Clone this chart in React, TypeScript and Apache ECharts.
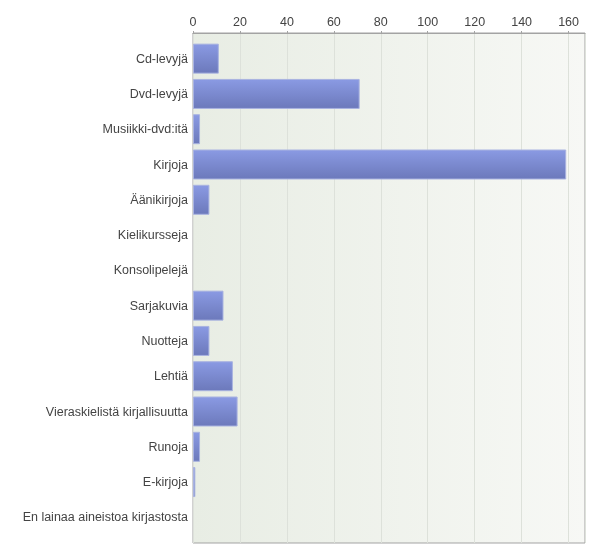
import React, { useEffect, useRef } from "react";
import * as echarts from "echarts";

const categories: string[] = [
  "Cd-levyjä",
  "Dvd-levyjä",
  "Musiikki-dvd:itä",
  "Kirjoja",
  "Äänikirjoja",
  "Kielikursseja",
  "Konsolipelejä",
  "Sarjakuvia",
  "Nuotteja",
  "Lehtiä",
  "Vieraskielistä kirjallisuutta",
  "Runoja",
  "E-kirjoja",
  "En lainaa aineistoa kirjastosta",
];

const values: number[] = [11, 71, 3, 159, 7, 0, 0, 13, 7, 17, 19, 3, 1, 0];

const axisMax = 167;
const tickStep = 20;

const FONT = "'Liberation Sans', Arial, sans-serif";

export default function App() {
  const ref = useRef<HTMLDivElement>(null);

  useEffect(() => {
    if (!ref.current) return;
    const chart = echarts.init(ref.current, undefined, { renderer: "svg" });
    chart.setOption({
      animation: false,
      grid: [
        {
          left: 193,
          right: 15,
          top: 33,
          bottom: 15,
          show: true,
          borderColor: "#a3a3a3",
          borderWidth: 1,
          backgroundColor: new echarts.graphic.LinearGradient(0, 0, 1, 0, [
            { offset: 0, color: "#e8ede4" },
            { offset: 1, color: "#f7f8f5" },
          ]),
        },
        {
          left: 193,
          right: 15,
          top: 41,
          bottom: 23,
        },
      ],
      xAxis: [
        {
          gridIndex: 0,
          type: "value",
          position: "top",
          min: 0,
          max: axisMax,
          interval: tickStep,
          axisLine: { show: true, lineStyle: { color: "#a3a3a3", width: 1 } },
          axisTick: { show: true, length: 2, lineStyle: { color: "#a3a3a3" } },
          splitLine: { show: true, lineStyle: { color: "#dde1da", width: 1 } },
          axisLabel: {
            showMaxLabel: false,
            margin: 5,
            fontSize: 12.5,
            color: "#444444",
            fontFamily: FONT,
          },
        },
        {
          gridIndex: 1,
          type: "value",
          min: 0,
          max: axisMax,
          show: false,
        },
      ],
      yAxis: [
        {
          gridIndex: 0,
          type: "category",
          data: [""],
          show: false,
        },
        {
          gridIndex: 1,
          type: "category",
          inverse: true,
          data: categories,
          axisLine: { show: false },
          axisTick: { show: false },
          splitLine: { show: false },
          axisLabel: {
            margin: 5,
            fontSize: 12.5,
            color: "#444444",
            fontFamily: FONT,
          },
        },
      ],
      series: [
        {
          type: "bar",
          xAxisIndex: 1,
          yAxisIndex: 1,
          data: values.map((v) =>
            v === 0 ? { value: v, itemStyle: { borderWidth: 0, opacity: 0 } } : v
          ),
          barWidth: 30,
          itemStyle: {
            color: new echarts.graphic.LinearGradient(0, 0, 0, 1, [
              { offset: 0, color: "#8a9ae3" },
              { offset: 1, color: "#6c79bb" },
            ]),
            borderColor: "#a9b3e0",
            borderWidth: 1,
          },
        },
      ],
    });
    return () => chart.dispose();
  }, []);

  return (
    <div
      ref={ref}
      style={{ position: "fixed", left: 0, top: 0, width: 600, height: 558 }}
    />
  );
}
